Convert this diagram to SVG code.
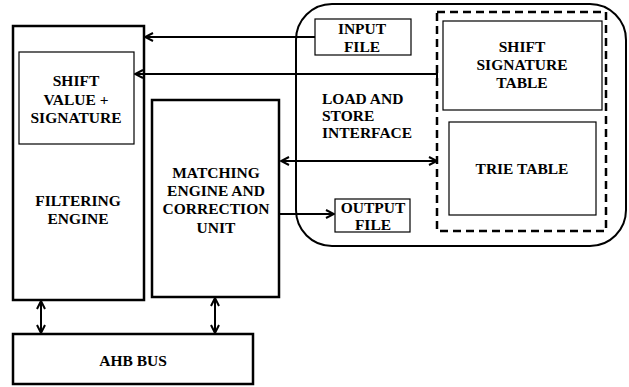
<svg xmlns="http://www.w3.org/2000/svg" width="629" height="387" viewBox="0 0 629 387">
<style>
.t{font-family:"Liberation Serif","Times New Roman","DejaVu Serif",serif;font-weight:bold;font-size:15.5px;fill:#000;text-anchor:middle}
.s{text-anchor:start}
.thick{fill:#fff;stroke:#000;stroke-width:2.5}
.thin{fill:#fff;stroke:#000;stroke-width:1.2}
.c{fill:none;stroke:#000;stroke-width:2}
</style>
<defs>
<marker id="ah" viewBox="0 0 10 10" refX="9" refY="5" markerWidth="10" markerHeight="10" markerUnits="userSpaceOnUse" orient="auto-start-reverse">
<path d="M1,1 L9,5 L1,9" fill="none" stroke="#000" stroke-width="2"/>
</marker>
</defs>
<rect width="629" height="387" fill="#fff"/>
<g id="memory">
<rect x="296" y="4" width="330" height="242" rx="36" ry="36" fill="#fff" stroke="#000" stroke-width="2"/>
<text class="t s" x="322" y="104">LOAD AND</text>
<text class="t s" x="322" y="121">STORE</text>
<text class="t s" x="322" y="138">INTERFACE</text>
</g>
<g id="tables">
<rect x="437" y="12" width="169" height="219" fill="none" stroke="#000" stroke-width="2.5" stroke-dasharray="8,5"/>
</g>
<g id="shift-signature-table">
<rect class="thin" x="443" y="21" width="159" height="89"/>
<text class="t" x="522" y="52">SHIFT</text>
<text class="t" x="522" y="70">SIGNATURE</text>
<text class="t" x="522" y="88">TABLE</text>
</g>
<g id="trie-table">
<rect class="thin" x="449" y="122" width="147" height="93"/>
<text class="t" x="522" y="174">TRIE  TABLE</text>
</g>
<g id="input-file">
<rect class="thin" x="315" y="19" width="96" height="36"/>
<text class="t" x="362" y="34">INPUT</text>
<text class="t" x="362" y="52">FILE</text>
</g>
<g id="output-file">
<rect class="thin" x="335" y="199" width="75" height="33"/>
<text class="t" x="373" y="213">OUTPUT</text>
<text class="t" x="373" y="230">FILE</text>
</g>
<g id="filtering-engine">
<rect class="thick" x="13" y="26" width="131" height="274"/>
<text class="t" x="78" y="206">FILTERING</text>
<text class="t" x="78" y="224">ENGINE</text>
</g>
<g id="shift-value">
<rect class="thin" x="19" y="52" width="115" height="92"/>
<text class="t" x="76" y="86">SHIFT</text>
<text class="t" x="76" y="105">VALUE  +</text>
<text class="t" x="76" y="123">SIGNATURE</text>
</g>
<g id="matching-engine">
<rect class="thick" x="152" y="100" width="127" height="197"/>
<text class="t" x="216" y="178">MATCHING</text>
<text class="t" x="216" y="196">ENGINE  AND</text>
<text class="t" x="216" y="214">CORRECTION</text>
<text class="t" x="216" y="233">UNIT</text>
</g>
<g id="ahb-bus">
<rect class="thick" x="13" y="334" width="240" height="50"/>
<text class="t" x="133" y="366">AHB BUS</text>
</g>
<g id="connectors">
<line class="c" x1="315" y1="37" x2="145" y2="37" marker-end="url(#ah)"/>
<polyline class="c" points="437,78 437,74 135,74" marker-end="url(#ah)"/>
<line class="c" x1="281" y1="161" x2="437" y2="161" marker-start="url(#ah)" marker-end="url(#ah)"/>
<line class="c" x1="280" y1="214" x2="334" y2="214" marker-end="url(#ah)"/>
<line class="c" x1="41" y1="301" x2="41" y2="333" marker-start="url(#ah)" marker-end="url(#ah)"/>
<line class="c" x1="215" y1="298" x2="215" y2="333" marker-start="url(#ah)" marker-end="url(#ah)"/>
</g>
</svg>
